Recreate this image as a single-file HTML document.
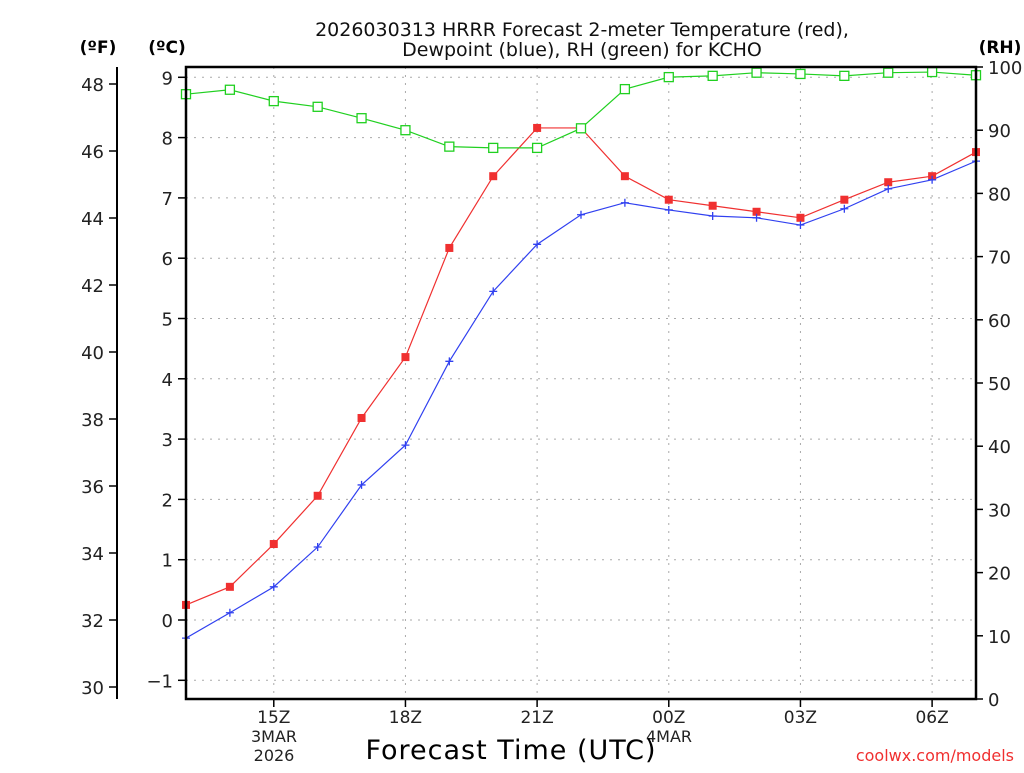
<!DOCTYPE html>
<html><head><meta charset="utf-8"><style>
body{margin:0;background:#fff;width:1024px;height:768px;overflow:hidden}
svg text{font-family:"DejaVu Sans","Liberation Sans",sans-serif}
</style></head><body>
<svg id="chart" width="1024" height="768" xmlns="http://www.w3.org/2000/svg">
<g id="grid"></g>
<g id="series"></g>
<g id="axes"></g>
</svg>
<script>
const hours=[13,14,15,16,17,18,19,20,21,22,23,24,25,26,27,28,29,30,31];
const tempC=[0.25,0.55,1.26,2.06,3.35,4.36,6.17,7.36,8.16,8.16,7.36,6.97,6.87,6.77,6.67,6.97,7.26,7.36,7.76];
const dewC=[-0.3,0.12,0.55,1.21,2.24,2.9,4.29,5.45,6.23,6.72,6.92,6.80,6.70,6.67,6.55,6.82,7.15,7.30,7.61];
const rh=[95.7,96.4,94.6,93.7,91.9,90.0,87.4,87.2,87.2,90.3,96.5,98.4,98.6,99.1,98.9,98.6,99.1,99.2,98.7];
const xTickHours=[15,18,21,24,27,30];
const xTickLabels=["15Z","18Z","21Z","00Z","03Z","06Z"];
const cTicks=[-1,0,1,2,3,4,5,6,7,8,9];
const fTicks=[30,32,34,36,38,40,42,44,46,48];
const rhTicks=[0,10,20,30,40,50,60,70,80,90,100];

const L=186,R=976,T=67,B=699;
const x=h=>L+(h-13)*(R-L)/18;
const yC=c=>620-c*60.3;
const yF=f=>yC((f-32)*5/9);
const yR=r=>B-r*(B-T)/100;
const NS="http://www.w3.org/2000/svg";
function mk(tag,attrs,parent,text){const e=document.createElementNS(NS,tag);for(const k in attrs)e.setAttribute(k,attrs[k]);if(text!==undefined)e.textContent=text;parent.appendChild(e);return e;}
const grid=document.getElementById('grid'),ser=document.getElementById('series'),ax=document.getElementById('axes'),svg=document.getElementById('chart');

cTicks.forEach(c=>{const e=mk('line',{x1:L,x2:R,y1:yC(c),y2:yC(c),stroke:'#aaa','stroke-dasharray':'2,6'},grid);

});
xTickHours.forEach(h=>{const e=mk('line',{x1:x(h),x2:x(h),y1:T,y2:B,stroke:'#aaa','stroke-dasharray':'2,6'},grid);

});

function line(vals,yf,color,name){
 const pts=vals.map((v,i)=>x(hours[i])+','+yf(v)).join(' ');
 const p=mk('polyline',{points:pts,fill:'none',stroke:color,'stroke-width':1.2},ser);
 
 
}
line(tempC,yC,'#f03030','temperature');
line(dewC,yC,'#3040f0','dewpoint');
line(rh,yR,'#20d020','rh');
tempC.forEach((v,i)=>{const e=mk('rect',{x:x(hours[i])-4,y:yC(v)-4,width:8,height:8,fill:'#f03030'},ser);

});
dewC.forEach((v,i)=>{const cx=x(hours[i]),cy=yC(v);const e=mk('path',{d:`M${cx-4},${cy}H${cx+4}M${cx},${cy-4}V${cy+4}`,stroke:'#3040f0','stroke-width':1.3},ser);

});
rh.forEach((v,i)=>{const e=mk('rect',{x:x(hours[i])-4.5,y:yR(v)-4.5,width:9,height:9,fill:'#fff',stroke:'#20d020','stroke-width':1.3},ser);

});

const frame=mk('rect',{x:L,y:T,width:R-L,height:B-T,fill:'none',stroke:'#000','stroke-width':2.5},ax);


cTicks.forEach(c=>{mk('line',{x1:L-8,x2:L,y1:yC(c),y2:yC(c),stroke:'#000','stroke-width':1.5},ax);
const t=mk('text',{x:173,y:yC(c)+7,'text-anchor':'end','font-size':18,fill:'#222'},ax,c<0?'\u2212'+(-c):String(c));

});
const fl=mk('line',{x1:117,x2:117,y1:T,y2:B,stroke:'#000','stroke-width':2},ax);


fTicks.forEach(f=>{mk('line',{x1:109,x2:117,y1:yF(f),y2:yF(f),stroke:'#000','stroke-width':1.5},ax);
const t=mk('text',{x:104,y:yF(f)+7,'text-anchor':'end','font-size':18,fill:'#222'},ax,String(f));

});
rhTicks.forEach(r=>{mk('line',{x1:R,x2:R+7,y1:yR(r),y2:yR(r),stroke:'#000','stroke-width':1.5},ax);
const t=mk('text',{x:988,y:yR(r)+7,'font-size':18,fill:'#222'},ax,String(r));

});
xTickHours.forEach((h,i)=>{mk('line',{x1:x(h),x2:x(h),y1:B,y2:B+8,stroke:'#000','stroke-width':1.5},ax);
const t=mk('text',{x:x(h),y:723,'text-anchor':'middle','font-size':17,fill:'#222'},ax,xTickLabels[i]);

});
</script>
<svg style="position:absolute;left:0;top:0" width="1024" height="768" xmlns="http://www.w3.org/2000/svg">
<text x="582" y="36" text-anchor="middle" font-size="19" fill="#111" font-family="DejaVu Sans Mono, Liberation Mono, monospace">2026030313 HRRR Forecast 2-meter Temperature (red),</text>
<text x="582" y="56" text-anchor="middle" font-size="19" fill="#111" font-family="DejaVu Sans Mono, Liberation Mono, monospace">Dewpoint (blue), RH (green) for KCHO</text>
<text x="98" y="53" text-anchor="middle" font-size="17" font-weight="bold" fill="#000" font-family="Liberation Sans, sans-serif">(ºF)</text>
<text x="167" y="53" text-anchor="middle" font-size="17" font-weight="bold" fill="#000" font-family="Liberation Sans, sans-serif">(ºC)</text>
<text x="1000" y="53" text-anchor="middle" font-size="17" font-weight="bold" fill="#000" font-family="Liberation Sans, sans-serif">(RH)</text>
<text x="274" y="742" text-anchor="middle" font-size="16" fill="#222" font-family="DejaVu Sans, sans-serif">3MAR</text>
<text x="274" y="761" text-anchor="middle" font-size="16" fill="#222" font-family="DejaVu Sans, sans-serif">2026</text>
<text x="669" y="742" text-anchor="middle" font-size="16" fill="#222" font-family="DejaVu Sans, sans-serif">4MAR</text>
<text x="511" y="759" text-anchor="middle" font-size="27" fill="#000" font-family="DejaVu Sans, sans-serif" letter-spacing="1">Forecast Time (UTC)</text>
<text x="1014" y="761" text-anchor="end" font-size="16" fill="#f03030" font-family="DejaVu Sans Mono, monospace">coolwx.com/models</text>
</svg>
</body></html>
